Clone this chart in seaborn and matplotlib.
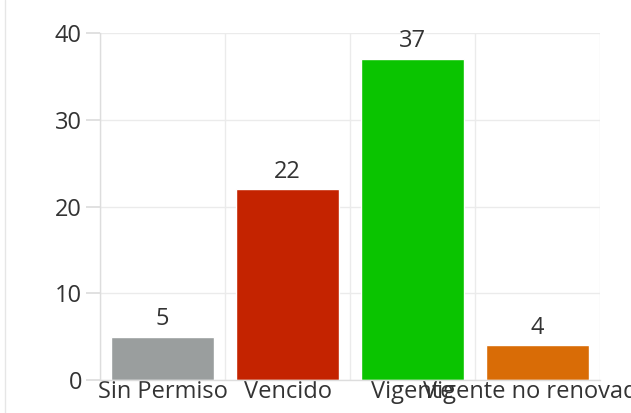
import matplotlib
matplotlib.use("Agg")
import matplotlib.pyplot as plt
import seaborn as sns
import pandas as pd
from matplotlib.ticker import FixedLocator

categories = ["Sin Permiso", "Vencido", "Vigente", "Vigente no renovado"]
values = [5, 22, 37, 4]
colors = ["#9a9e9e", "#c42300", "#0ac400", "#d96c06"]
yticks = [0, 10, 20, 30, 40]

sns.set_theme(style="white")
plt.rcParams['font.family'] = ['Open Sans', 'DejaVu Sans']

df = pd.DataFrame({"cat": categories, "val": values})

fig = plt.figure(figsize=(6.31, 4.13), dpi=100)
ax = fig.add_axes([100/631, 33/413, 500/631, 347/413])

sns.barplot(data=df, x="cat", y="val", hue="cat", palette=colors,
            legend=False, width=0.82, ax=ax, saturation=1)

ax.set_xlim(-0.5, 3.5)
ax.set_ylim(0, 40)
ax.set_yticks(yticks)
ax.xaxis.set_minor_locator(FixedLocator([-0.5, 0.5, 1.5, 2.5, 3.5]))
ax.grid(False)
ax.grid(True, axis="y", which="major", color="#ebebeb", linewidth=1)
ax.grid(True, axis="x", which="minor", color="#ebebeb", linewidth=1)
ax.set_axisbelow(True)
ax.set_xlabel("")
ax.set_ylabel("")

for s in ["top", "right"]:
    ax.spines[s].set_visible(False)
for s in ["left", "bottom"]:
    ax.spines[s].set_color("#dddddd")
    ax.spines[s].set_linewidth(1)

ax.tick_params(axis="y", length=10, color="#dddddd", labelsize=17, labelcolor="#333333", pad=3, left=True)
ax.tick_params(axis="x", which="major", length=0, labelsize=17, labelcolor="#333333", pad=0)
ax.tick_params(axis="x", which="minor", length=0)

for i, v in enumerate(values):
    ax.annotate(str(v), (i, v), xytext=(0, 4), textcoords="offset points",
                ha="center", va="bottom", fontsize=17, color="#333333")

fig.add_artist(plt.Line2D([5/631, 5/631], [0, 1], color="#e6e6e6", linewidth=1, transform=fig.transFigure))

fig.savefig("out.png", dpi=100)
